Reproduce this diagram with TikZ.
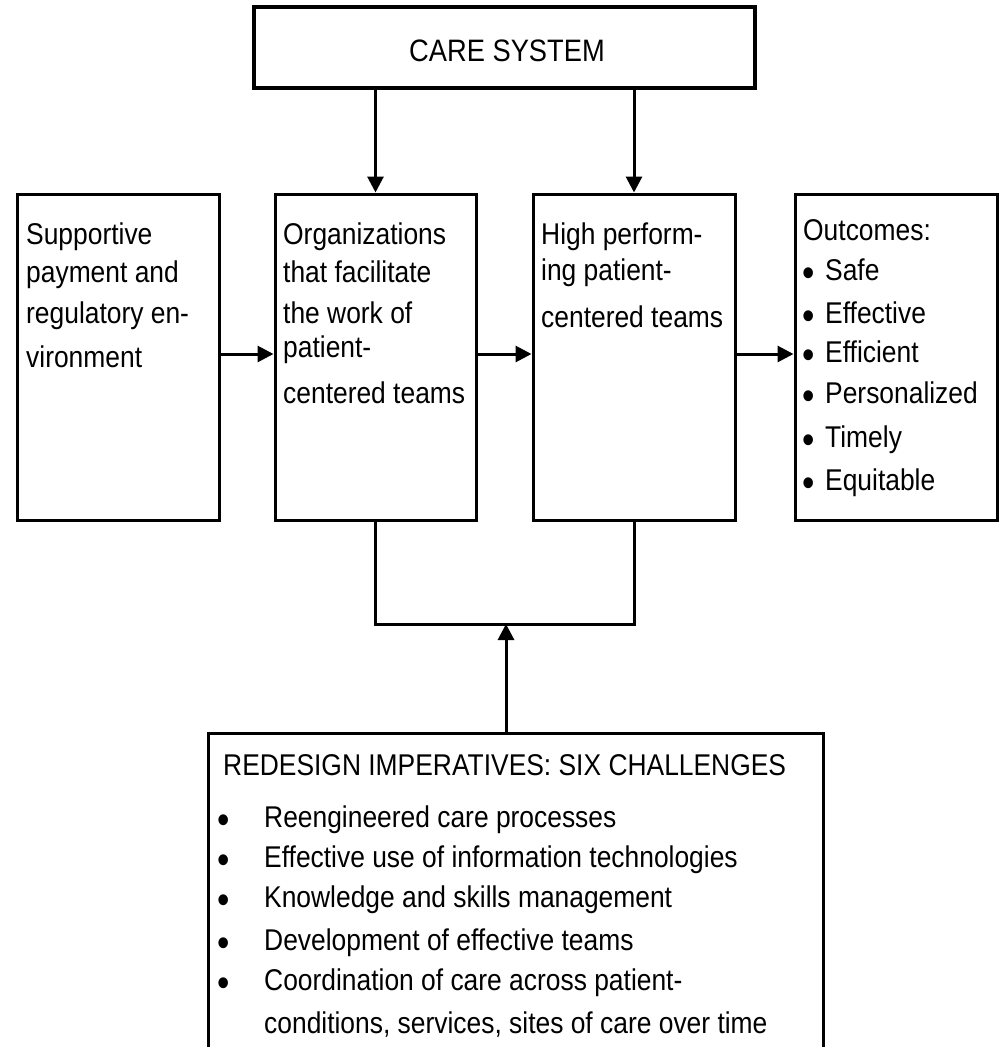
\documentclass[tikz,border=0pt]{standalone}
\usepackage{fontspec}
\setmainfont{Liberation Sans}[FakeStretch=0.88]
\usetikzlibrary{arrows.meta}

\begin{document}
\begin{tikzpicture}[x=1pt, y=-1pt,
  box/.style={draw, line width=3pt, rectangle, inner sep=0pt},
  wire/.style={line width=3pt},
  arr/.style={line width=3pt, -{Triangle[length=16pt,width=16pt]}},
  txt/.style={anchor=base west, inner sep=0pt, font=\fontsize{30}{36}\selectfont},
  dot/.style={anchor=base, inner sep=0pt, font=\fontsize{40}{36}\selectfont},
]
% page
\useasboundingbox (0,0) rectangle (1000,1047);
\clip (0,0) rectangle (1000,1047);
\fill[white] (0,0) rectangle (1000,1047);

% top box
\node[box, line width=3.5pt, minimum width=501pt, minimum height=81pt] (care) at (504.5,47.5) {};
\node[anchor=base, inner sep=0pt, font=\fontsize{31}{36}\selectfont] (caretxt) at (507,61) {CARE SYSTEM};

% row of four boxes
\node[box, minimum width=202pt, minimum height=326pt] (b1) at (118,357) {};
\node[box, minimum width=201pt, minimum height=326pt] (b2) at (375.5,357) {};
\node[box, minimum width=202pt, minimum height=326pt] (b3) at (634,357) {};
\node[box, minimum width=202pt, minimum height=326pt] (b4) at (896,357) {};

% bottom box, running off the page
\node[box, minimum width=615pt, minimum height=400pt] (redesign) at (515.5,933) {};

% box texts
\foreach \yy/\lbl [count=\i] in {244/Supportive, 282/payment and, 323/regulatory en-, 367/vironment}
  \node[txt] (s\i) at (26,\yy) {\lbl};
\foreach \yy/\lbl [count=\i] in {244/Organizations, 282/that facilitate, 323/the work of, 357/patient-, 403/centered teams}
  \node[txt] (o\i) at (283,\yy) {\lbl};
\foreach \yy/\lbl [count=\i] in {244/High perform-, 280/ing patient-, 327/centered teams}
  \node[txt] (h\i) at (541,\yy) {\lbl};
\node[txt] (u0) at (803,240) {Outcomes:};
\foreach \yy/\lbl [count=\i] in {280/Safe, 323/Effective, 362/Efficient, 403/Personalized, 447/Timely, 490/Equitable}
{
  \node[dot] (ub\i) at (808.5,\yy+6) {\textbullet};
  \node[txt] (u\i) at (825,\yy) {\lbl};
}

\node[txt] (r0) at (223,775) {REDESIGN IMPERATIVES: SIX CHALLENGES};
\foreach \yy/\lbl [count=\i] in {827/Reengineered care processes, 867/Effective use of information technologies, 907/Knowledge and skills management, 950/Development of effective teams, 990/Coordination of care across patient-}
{
  \node[dot] (rb\i) at (224,\yy+6) {\textbullet};
  \node[txt] (r\i) at (264,\yy) {\lbl};
}
\node[txt] (r6) at (264,1033) {conditions, services, sites of care over time};

% connectors
\draw[arr] (care.south -| b2.north) -- (b2.north);
\draw[arr] (care.south -| b3.north) -- (b3.north);

\coordinate (h) at (0,354);
\draw[arr] (b1.east |- h) -- (b2.west |- h);
\draw[arr] (b2.east |- h) -- (b3.west |- h);
\draw[arr] (b3.east |- h) -- (b4.west |- h);

\coordinate (j) at (0,624);
\coordinate (up) at (506,624);
\draw[wire] (b2.south) -- (b2.south |- j) -- (b3.south |- j) -- (b3.south);
\draw[arr] (redesign.north -| up) -- (up);
\end{tikzpicture}
\end{document}
